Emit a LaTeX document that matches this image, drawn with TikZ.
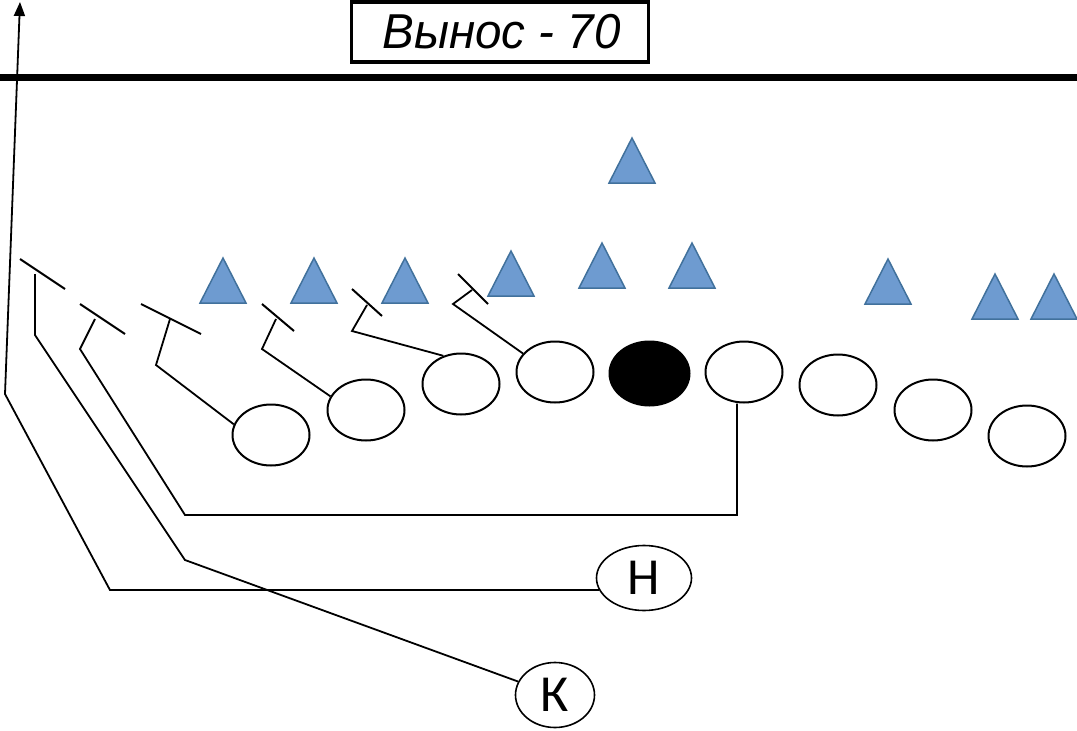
\documentclass[tikz,border=0pt]{standalone}
\usepackage{graphicx}
\usepackage{fontspec}
\setmainfont{Liberation Sans}
\newfontfamily\labfont{Carlito}
\usetikzlibrary{shapes.geometric,arrows.meta}
\definecolor{deffill}{HTML}{6E9BD0}
\definecolor{defline}{HTML}{41719C}
\begin{document}
\begin{tikzpicture}[x=1pt,y=-1pt,
  lineman/.style={draw,ellipse,line width=2pt,minimum width=77pt,minimum height=61pt,inner sep=0pt},
  backnode/.style={draw,ellipse,line width=1.6pt,inner sep=0pt,font=\labfont\fontsize{52}{52}\selectfont},
  route/.style={line width=1.8pt},
  blockline/.style={line width=2pt},
  defender/.pic={\filldraw[fill=deffill,draw=defline,line width=1.5pt] (0,0) -- (23,45) -- (-23,45) -- cycle;}
]
\useasboundingbox (0,0) rectangle (1077,731);
% title
\node[draw,line width=3.5pt,minimum width=297pt,minimum height=60pt,inner sep=0pt] (titlebox) at (500,32) {};
\node[inner sep=0pt] (title) at (501.5,31.5)
  {\itshape\fontsize{49}{49}\selectfont\scalebox{0.97}[1]{Вынос - 70}};
% line of scrimmage
\draw[line width=7pt] (0,77) -- (1077,77);
% defenders
\pic at (223,258) {defender};
\pic at (314,258) {defender};
\pic at (405,258) {defender};
\pic at (511,251) {defender};
\pic at (602,243) {defender};
\pic at (692,243) {defender};
\pic at (632,138) {defender};
\pic at (888,259) {defender};
\pic at (995,274) {defender};
\pic at (1054,274) {defender};
% offensive line
\node[lineman] (o1) at (271,435) {};
\node[lineman] (o2) at (366,410) {};
\node[lineman] (o3) at (461,384) {};
\node[lineman] (o4) at (555,372) {};
\node[lineman,fill=black,minimum width=80pt,minimum height=64pt] (oc) at (649.5,373.5) {};
\node[lineman] (o6) at (744,372) {};
\node[lineman] (o7) at (838,385) {};
\node[lineman] (o8) at (933,410) {};
\node[lineman] (o9) at (1027,436) {};
% backs
\node[backnode,minimum width=95pt,minimum height=65pt] (nH) at (644,578) {H};
\node[backnode,minimum width=79pt,minimum height=65pt] (nK) at (555,695) {К};
% coordinates
\coordinate (b1a) at (20,259); \coordinate (b1b) at (65,289);
\coordinate (k1) at (185,560); \coordinate (k2) at (35,335); \coordinate (k3) at (35,274);
\coordinate (b2a) at (80,304); \coordinate (b2b) at (125,334);
\coordinate (g1) at (737,515); \coordinate (g2) at (185,515); \coordinate (g3) at (80,349); \coordinate (g4) at (95,319);
\coordinate (b3a) at (141,304); \coordinate (b3b) at (201,334);
\coordinate (t1) at (156,365); \coordinate (t2) at (170,319);
\coordinate (b4a) at (262,304); \coordinate (b4b) at (294,331);
\coordinate (u1) at (262,349); \coordinate (u2) at (276,319);
\coordinate (b5a) at (352,289); \coordinate (b5b) at (382,316);
\coordinate (v1) at (352,331); \coordinate (v2) at (367,305);
\coordinate (b6a) at (458,274); \coordinate (b6b) at (488,304);
\coordinate (w1) at (453,304); \coordinate (w2) at (472,290);
\coordinate (h1) at (110,591); \coordinate (h2) at (5,394); \coordinate (tip) at (20,2);
% blocks
\draw[blockline] (b1a) -- (b1b);
\draw[blockline] (b2a) -- (b2b);
\draw[blockline] (b3a) -- (b3b);
\draw[blockline] (b4a) -- (b4b);
\draw[blockline] (b5a) -- (b5b);
\draw[blockline] (b6a) -- (b6b);
% routes
\draw[route] (nK) -- (k1) -- (k2) -- (k3);
\draw[route] (g1 |- o6.south) -- (g1) -- (g2) -- (g3) -- (g4);
\draw[route] (o1.164) -- (t1) -- (t2);
\draw[route] (o2.159) -- (u1) -- (u2);
\draw[route] (o3.122) -- (v1) -- (v2);
\draw[route] (o4.150) -- (w1) -- (w2);
\draw[route,-{Triangle[length=14pt,width=11pt]}] (nH.195) -- (h1 |- nH.195) -- (h2) -- (tip);
\end{tikzpicture}
\end{document}
